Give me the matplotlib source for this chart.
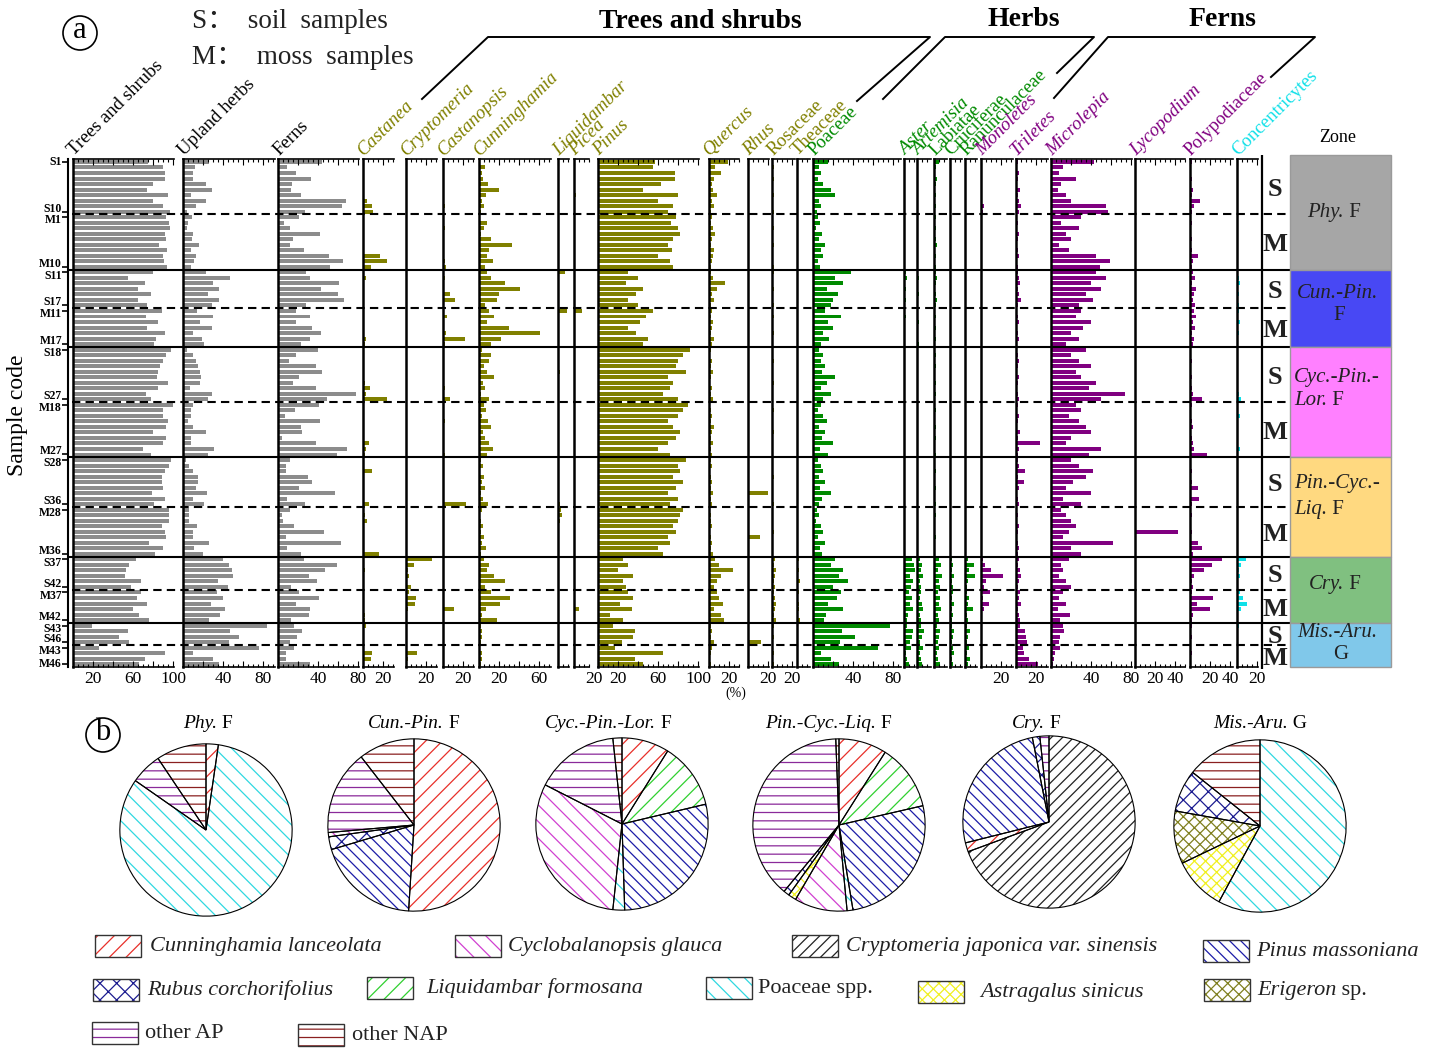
import matplotlib.pyplot as plt
from matplotlib.patches import Circle, Rectangle
from matplotlib.ticker import MultipleLocator

plt.rcParams['font.family'] = ['Liberation Serif', 'Noto Sans CJK SC']
plt.rcParams['hatch.linewidth'] = 0.9

W, H = 1439, 1048
fig = plt.figure(figsize=(W / 100, H / 100), dpi=100)


def px_axes(x0, y0, x1, y1):
    # axes placed with pixel coordinates measured from the top-left corner
    return fig.add_axes([x0 / W, 1 - y1 / H, (x1 - x0) / W, (y1 - y0) / H])


def mixed(ax, x, y, pieces, size, color='black'):
    # text made of several pieces with different styles, laid end to end
    txt, st = pieces[0]
    t = ax.text(x, y, txt, style=st, fontsize=size, color=color, ha='left', va='center')
    for txt, st in pieces[1:]:
        t = ax.annotate(txt, xy=(1, 0), xycoords=t, style=st, fontsize=size,
                        color=color, ha='left', va='bottom')
    return t


# ---- samples: 6 zones, soil samples (S) then moss samples (M) ----
soil_n = [10, 7, 10, 9, 6, 4]
moss_n = [10, 7, 10, 9, 6, 4]

samples = []
groups = []
s_no, m_no = 1, 1
for ns, nm in zip(soil_n, moss_n):
    r = len(samples)
    samples += ['S%d' % k for k in range(s_no, s_no + ns)]
    groups.append((r, r + ns - 1, 'S'))
    r = len(samples)
    samples += ['M%d' % k for k in range(m_no, m_no + nm)]
    groups.append((r, r + nm - 1, 'M'))
    s_no += ns
    m_no += nm
n_rows = len(samples)
rows = list(range(n_rows))

# ---- pollen percentages (one line per zone) ----
trees_shrubs = [
    75, 90, 92, 92, 80, 74, 95, 80, 90, 97, 93, 96, 97, 92, 93, 86, 94, 90, 91, 94,
    80, 55, 72, 65, 78, 65, 74, 89, 73, 85, 74, 92, 83, 81,
    98, 93, 90, 87, 85, 84, 95, 85, 73, 78, 100, 90, 90, 95, 93, 80, 93, 90, 70, 78,
    98, 96, 92, 89, 89, 90, 79, 92, 81, 96, 96, 96, 89, 92, 93, 76, 90, 82,
    63, 56, 53, 52, 68, 58, 68, 64, 74, 60, 66, 76,
    19, 55, 46, 56, 26, 92, 72, 66]
upland_herbs = [
    26, 12, 10, 10, 23, 29, 8, 23, 13, 4, 9, 5, 4, 10, 9, 16, 8, 13, 11, 8,
    23, 47, 30, 36, 25, 36, 29, 14, 30, 17, 29, 10, 19, 21,
    4, 10, 13, 15, 17, 18, 17, 7, 29, 25, 10, 8, 8, 5, 10, 23, 8, 8, 31, 25,
    3, 6, 10, 15, 15, 13, 24, 10, 21, 6, 6, 6, 14, 10, 10, 26, 11, 20,
    40, 46, 49, 50, 35, 45, 34, 40, 28, 42, 37, 26,
    84, 47, 56, 46, 76, 10, 30, 36]
ferns = [
    44, 9, 18, 33, 14, 13, 23, 68, 64, 27, 21, 6, 12, 42, 15, 12, 26, 51, 65, 52,
    28, 32, 61, 43, 60, 66, 28, 18, 32, 18, 34, 43, 32, 23,
    40, 18, 11, 38, 44, 21, 15, 38, 78, 49, 41, 17, 7, 42, 23, 24, 4, 38, 69, 59,
    12, 8, 8, 30, 34, 21, 57, 9, 27, 12, 4, 5, 16, 46, 8, 63, 9, 23,
    26, 59, 47, 31, 39, 13, 21, 41, 18, 32, 31, 13,
    16, 24, 19, 12, 16, 8, 8, 32]
castanea = [
    0, 0, 0, 0, 1, 0, 0, 4, 9, 10, 0, 0, 0, 1, 0, 0, 1, 17, 24, 8,
    0, 3, 0, 0, 0, 1, 0, 0, 1, 0, 0, 1, 3, 2,
    0, 0, 0, 1, 0, 0, 2, 7, 3, 24, 0, 0, 0, 1, 0, 0, 0, 6, 3, 2,
    0, 1, 9, 1, 0, 0, 0, 0, 6, 1, 2, 4, 0, 1, 0, 0, 0, 16,
    0, 1, 2, 1, 0, 0, 0, 0, 0, 1, 2, 2,
    3, 0, 0, 0, 0, 9, 8, 1]
cryptomeria = [
    0, 0, 1, 0, 1, 0, 0, 0, 1, 0, 0, 1, 0, 0, 0, 1, 0, 0, 0, 0,
    0, 0, 0, 1, 0, 0, 0, 0, 0, 1, 0, 0, 0, 0,
    0, 0, 0, 0, 0, 0, 0, 0, 0, 0, 0, 0, 0, 0, 0, 0, 0, 0, 0, 0,
    0, 0, 0, 0, 0, 0, 0, 0, 0, 0, 0, 0, 0, 0, 0, 0, 0, 0,
    26, 8, 2, 3, 1, 5, 3, 10, 9, 2, 1, 1,
    0, 1, 1, 0, 0, 11, 2, 0]
castanopsis = [
    0, 0, 0, 0, 0, 1, 0, 0, 2, 1, 0, 0, 2, 0, 0, 0, 0, 0, 2, 3,
    1, 2, 1, 0, 7, 12, 1, 1, 4, 0, 1, 3, 22, 2,
    0, 0, 1, 0, 0, 0, 1, 2, 0, 7, 0, 0, 0, 2, 0, 0, 0, 0, 1, 2,
    0, 0, 0, 0, 0, 1, 0, 0, 23, 0, 0, 0, 1, 0, 0, 0, 0, 0,
    0, 0, 1, 0, 0, 0, 0, 0, 0, 11, 0, 0,
    0, 1, 1, 0, 0, 0, 0, 0]
cunninghamia = [
    0, 6, 3, 4, 9, 20, 7, 3, 5, 2, 1, 8, 5, 2, 12, 33, 10, 8, 14, 6,
    8, 12, 26, 41, 20, 18, 6, 10, 15, 8, 30, 61, 22, 12,
    3, 12, 10, 5, 8, 15, 4, 6, 2, 10, 5, 7, 3, 9, 12, 4, 6, 10, 14, 8,
    2, 4, 1, 5, 3, 6, 2, 4, 9, 3, 1, 2, 4, 2, 5, 3, 7, 2,
    5, 10, 8, 15, 26, 6, 12, 31, 21, 7, 3, 18,
    2, 3, 3, 2, 1, 3, 3, 2]
liquidambar = [
    0, 0, 1, 0, 0, 0, 0, 0, 0, 0, 0, 0, 0, 0, 0, 0, 0, 0, 0, 0,
    7, 0, 0, 1, 0, 0, 0, 9, 0, 0, 0, 0, 0, 0,
    0, 0, 0, 0, 2, 0, 0, 0, 0, 0, 0, 0, 0, 0, 0, 1, 0, 0, 0, 0,
    0, 0, 1, 0, 0, 0, 0, 0, 2, 3, 4, 2, 0, 0, 0, 1, 0, 0,
    0, 0, 0, 0, 0, 0, 0, 0, 0, 1, 0, 0,
    0, 0, 0, 0, 0, 0, 0, 0]
picea = [
    0, 0, 0, 0, 0, 0, 2, 0, 0, 0, 0, 0, 0, 0, 0, 0, 0, 0, 0, 0,
    0, 0, 0, 0, 0, 0, 0, 8, 0, 0, 0, 0, 0, 0,
    0, 0, 0, 0, 0, 0, 0, 0, 0, 0, 0, 0, 0, 0, 0, 0, 0, 0, 0, 0,
    0, 0, 0, 0, 0, 0, 0, 0, 0, 0, 0, 0, 0, 0, 0, 0, 0, 0,
    0, 0, 0, 0, 0, 0, 0, 0, 0, 5, 0, 0,
    0, 0, 0, 0, 0, 0, 0, 0]
pinus = [
    57, 55, 77, 77, 63, 45, 80, 60, 75, 70, 78, 73, 80, 82, 75, 70, 74, 60, 72, 75,
    30, 40, 28, 45, 38, 30, 40, 55, 48, 42, 30, 38, 50, 45,
    92, 85, 80, 78, 88, 70, 75, 72, 65, 80, 90, 85, 80, 70, 75, 82, 78, 70, 60, 72,
    88, 80, 82, 75, 85, 78, 70, 80, 72, 85, 82, 80, 75, 78, 70, 72, 60, 65,
    25, 30, 20, 35, 25, 28, 30, 35, 22, 34, 12, 25,
    15, 37, 35, 24, 17, 65, 37, 45]
quercus = [
    19, 6, 12, 5, 3, 4, 8, 3, 5, 2, 3, 2, 4, 6, 3, 2, 5, 4, 3, 2,
    2, 4, 16, 8, 3, 5, 2, 3, 2, 4, 3, 2, 5, 3,
    2, 1, 3, 2, 4, 2, 1, 3, 2, 4, 1, 2, 3, 2, 5, 3, 2, 4, 2, 3,
    2, 3, 1, 2, 3, 2, 4, 2, 3, 1, 2, 2, 3, 1, 2, 3, 2, 4,
    6, 10, 24, 12, 8, 5, 8, 10, 14, 5, 12, 15,
    2, 3, 2, 5, 3, 2, 1, 2]
rhus = [
    0, 0, 0, 0, 0, 0, 0, 0, 0, 0, 0, 0, 0, 0, 0, 0, 0, 0, 0, 0,
    0, 0, 1, 0, 0, 0, 0, 0, 0, 0, 0, 0, 0, 0,
    0, 0, 0, 0, 0, 0, 0, 0, 0, 0, 0, 0, 0, 0, 0, 0, 0, 0, 0, 0,
    0, 0, 0, 0, 0, 0, 20, 0, 0, 0, 0, 0, 0, 0, 12, 0, 0, 0,
    1, 0, 1, 0, 0, 1, 0, 1, 0, 0, 1, 0,
    0, 0, 0, 13, 0, 0, 0, 0]
rosaceae = [
    1, 2, 1, 2, 1, 1, 2, 1, 1, 2, 1, 1, 2, 1, 1, 2, 1, 1, 1, 2,
    2, 1, 1, 2, 1, 1, 2, 1, 2, 1, 1, 2, 1, 1,
    1, 1, 2, 1, 1, 1, 2, 1, 1, 1, 1, 2, 1, 1, 1, 2, 1, 1, 1, 1,
    1, 1, 1, 2, 1, 1, 1, 1, 2, 1, 1, 1, 1, 2, 1, 1, 1, 1,
    3, 2, 4, 3, 2, 3, 2, 3, 4, 3, 2, 4,
    2, 1, 2, 1, 1, 2, 1, 2]
theaceae = [
    0, 0, 1, 0, 0, 1, 0, 0, 0, 1, 0, 0, 0, 1, 0, 0, 0, 0, 1, 0,
    1, 0, 0, 1, 0, 0, 1, 0, 1, 0, 0, 0, 1, 0,
    0, 0, 0, 1, 0, 0, 0, 0, 1, 0, 0, 0, 1, 0, 0, 0, 0, 1, 0, 0,
    0, 1, 0, 0, 0, 0, 1, 0, 0, 0, 0, 0, 1, 0, 0, 0, 0, 0,
    2, 1, 2, 1, 3, 1, 2, 1, 2, 2, 1, 3,
    1, 0, 1, 0, 1, 0, 0, 1]
poaceae = [
    15, 6, 8, 5, 10, 18, 22, 6, 8, 4, 5, 7, 3, 9, 6, 12, 8, 10, 5, 7,
    38, 22, 30, 14, 25, 20, 18, 12, 28, 15, 20, 10, 16, 8,
    6, 10, 8, 12, 9, 22, 14, 8, 18, 10, 8, 5, 10, 14, 6, 12, 9, 20, 7, 15,
    5, 8, 10, 6, 12, 7, 18, 9, 6, 4, 6, 3, 8, 10, 5, 12, 7, 9,
    22, 18, 30, 26, 35, 20, 28, 24, 15, 30, 13, 11,
    77, 29, 42, 27, 65, 8, 18, 26]
aster = [
    1, 0, 1, 0, 1, 1, 0, 0, 1, 0, 0, 1, 0, 0, 1, 0, 0, 1, 0, 0,
    2, 3, 1, 2, 1, 2, 1, 1, 2, 1, 1, 0, 1, 1,
    0, 1, 0, 0, 1, 0, 0, 1, 0, 1, 0, 0, 1, 0, 0, 1, 0, 0, 1, 0,
    0, 0, 1, 0, 0, 0, 1, 0, 0, 0, 1, 0, 0, 0, 0, 1, 0, 0,
    8, 10, 12, 6, 9, 7, 5, 8, 6, 9, 4, 3,
    3, 9, 8, 6, 7, 2, 3, 5]
artemisia = [
    1, 1, 0, 1, 0, 1, 1, 0, 1, 1, 0, 1, 1, 0, 1, 0, 1, 1, 0, 1,
    1, 2, 1, 1, 2, 1, 1, 1, 1, 2, 1, 1, 1, 2,
    0, 1, 1, 0, 1, 1, 0, 1, 1, 0, 1, 0, 1, 1, 0, 1, 1, 0, 1, 1,
    1, 0, 1, 1, 0, 1, 0, 1, 1, 0, 1, 1, 0, 1, 0, 1, 1, 0,
    3, 5, 4, 6, 3, 4, 4, 3, 5, 6, 3, 4,
    4, 7, 5, 3, 6, 3, 4, 5]
labiatae = [
    5, 2, 1, 3, 2, 1, 2, 1, 2, 1, 2, 1, 2, 1, 2, 3, 1, 2, 1, 2,
    2, 3, 2, 1, 2, 3, 2, 1, 2, 1, 2, 1, 2, 1,
    1, 2, 1, 2, 1, 1, 2, 1, 2, 1, 1, 2, 1, 1, 2, 1, 2, 1, 1, 2,
    1, 1, 2, 1, 1, 2, 1, 1, 2, 1, 2, 1, 1, 1, 2, 1, 1, 1,
    5, 7, 4, 8, 5, 6, 4, 6, 5, 7, 4, 5,
    3, 6, 5, 4, 5, 3, 4, 6]
cruciferae = [
    0, 1, 0, 0, 1, 0, 0, 1, 0, 0, 1, 0, 0, 1, 0, 0, 1, 0, 0, 1,
    1, 0, 1, 0, 1, 0, 1, 0, 1, 0, 1, 0, 1, 0,
    0, 0, 1, 0, 0, 1, 0, 0, 1, 0, 0, 1, 0, 0, 1, 0, 0, 1, 0, 0,
    0, 1, 0, 0, 1, 0, 0, 1, 0, 1, 0, 0, 1, 0, 0, 1, 0, 0,
    2, 3, 2, 4, 2, 3, 3, 2, 4, 2, 3, 2,
    2, 4, 3, 2, 3, 4, 2, 3]
ranunculaceae = [
    0, 0, 1, 0, 0, 0, 1, 0, 0, 0, 0, 1, 0, 0, 0, 0, 0, 1, 0, 0,
    1, 0, 0, 1, 0, 1, 0, 0, 0, 1, 0, 0, 0, 1,
    0, 1, 0, 0, 0, 0, 1, 0, 0, 0, 0, 0, 0, 1, 0, 0, 0, 0, 1, 0,
    0, 0, 0, 1, 0, 0, 0, 0, 1, 0, 0, 1, 0, 0, 0, 0, 1, 0,
    3, 9, 4, 10, 3, 2, 2, 4, 3, 8, 2, 3,
    2, 5, 3, 2, 4, 2, 5, 3]
monoletes = [
    0, 0, 0, 0, 0, 0, 0, 0, 3, 2, 0, 0, 0, 0, 1, 0, 0, 0, 0, 0,
    0, 0, 0, 0, 0, 0, 0, 0, 0, 0, 0, 0, 0, 0,
    0, 0, 0, 0, 0, 0, 0, 0, 0, 0, 0, 0, 0, 0, 0, 0, 0, 0, 0, 0,
    0, 0, 0, 0, 0, 0, 0, 0, 0, 0, 0, 0, 0, 0, 0, 0, 0, 0,
    2, 4, 10, 22, 5, 3, 9, 2, 8, 3, 1, 1,
    1, 0, 1, 0, 0, 1, 0, 0]
triletes = [
    2, 1, 3, 2, 1, 4, 2, 3, 5, 3, 1, 2, 1, 3, 2, 1, 2, 3, 1, 2,
    2, 3, 4, 2, 3, 5, 2, 1, 2, 3, 1, 2, 3, 1,
    1, 2, 3, 2, 1, 3, 2, 1, 2, 3, 2, 1, 3, 2, 1, 4, 2, 24, 3, 2,
    2, 3, 9, 2, 8, 3, 1, 2, 3, 1, 2, 1, 3, 2, 1, 2, 3, 2,
    3, 2, 4, 5, 3, 2, 4, 3, 5, 2, 3, 4,
    4, 9, 10, 11, 7, 8, 13, 22]
microlepia = [
    43, 12, 8, 25, 10, 7, 15, 20, 55, 57, 30, 10, 28, 15, 20, 8, 18, 45, 59, 49,
    45, 55, 40, 50, 35, 42, 28, 30, 25, 40, 32, 20, 28, 15,
    35, 20, 28, 40, 25, 30, 45, 38, 74, 50, 25, 30, 18, 28, 35, 40, 20, 15, 50, 38,
    20, 28, 42, 35, 22, 15, 40, 12, 30, 10, 15, 20, 25, 18, 12, 62, 20, 30,
    18, 10, 12, 8, 15, 20, 12, 8, 15, 7, 19, 9,
    12, 13, 9, 8, 9, 4, 3, 2]
lycopodium = [
    0, 0, 0, 0, 0, 0, 0, 0, 0, 0, 0, 0, 0, 0, 0, 0, 0, 0, 0, 0,
    0, 0, 0, 0, 0, 0, 0, 0, 0, 0, 0, 0, 0, 0,
    0, 0, 0, 0, 0, 0, 0, 0, 0, 0, 0, 0, 0, 0, 0, 0, 0, 0, 0, 0,
    0, 0, 0, 0, 0, 0, 0, 0, 0, 0, 0, 0, 0, 43, 0, 0, 0, 0,
    0, 0, 0, 0, 0, 0, 0, 0, 0, 0, 0, 0,
    0, 0, 0, 0, 0, 0, 0, 0]
polypodiaceae = [
    2, 1, 1, 2, 1, 3, 2, 10, 4, 2, 1, 2, 1, 1, 2, 1, 2, 8, 3, 2,
    3, 5, 2, 6, 4, 3, 5, 4, 6, 3, 5, 2, 4, 3,
    1, 1, 2, 1, 1, 2, 1, 2, 3, 12, 2, 1, 1, 2, 3, 1, 2, 3, 4, 17,
    1, 1, 2, 1, 2, 8, 1, 9, 2, 1, 2, 1, 1, 2, 1, 8, 12, 3,
    32, 22, 14, 4, 2, 3, 2, 23, 7, 20, 3, 2,
    2, 1, 2, 1, 1, 2, 1, 1]
concentricytes = [
    0, 0, 0, 0, 1, 0, 0, 0, 0, 0, 0, 0, 0, 0, 0, 1, 0, 0, 0, 0,
    1, 2, 3, 1, 2, 1, 2, 2, 1, 3, 1, 2, 1, 1,
    1, 0, 0, 0, 0, 0, 1, 0, 2, 4, 1, 0, 3, 0, 0, 0, 0, 0, 3, 0,
    0, 0, 0, 0, 0, 0, 0, 0, 0, 0, 0, 0, 0, 0, 0, 0, 0, 0,
    9, 4, 2, 3, 1, 1, 3, 6, 10, 4, 1, 1,
    2, 0, 0, 0, 1, 0, 0, 0]

# ---- pie charts: share of each taxon per zone, clockwise from 12 o'clock ----
pie_titles = [[('Phy.', 'italic'), (' F', 'normal')],
              [('Cun.-Pin.', 'italic'), (' F', 'normal')],
              [('Cyc.-Pin.-Lor.', 'italic'), (' F', 'normal')],
              [('Pin.-Cyc.-Liq.', 'italic'), (' F', 'normal')],
              [('Cry.', 'italic'), (' F', 'normal')],
              [('Mis.-Aru.', 'italic'), (' G', 'normal')]]
pie_taxa = [
    ['Cunninghamia lanceolata', 'Poaceae spp.', 'other AP', 'other NAP'],
    ['Cunninghamia lanceolata', 'Pinus massoniana', 'Rubus corchorifolius',
     'Cyclobalanopsis glauca', 'other AP', 'other NAP'],
    ['Cunninghamia lanceolata', 'Liquidambar formosana', 'Pinus massoniana',
     'Poaceae spp.', 'Cyclobalanopsis glauca', 'other AP', 'other NAP'],
    ['Cunninghamia lanceolata', 'Liquidambar formosana', 'Pinus massoniana',
     'Poaceae spp.', 'Cyclobalanopsis glauca', 'Astragalus sinicus',
     'Rubus corchorifolius', 'other AP', 'other NAP'],
    ['Cryptomeria japonica var. sinensis', 'Cunninghamia lanceolata',
     'Pinus massoniana', 'Rubus corchorifolius', 'other AP'],
    ['Poaceae spp.', 'Astragalus sinicus', 'Erigeron sp.',
     'Rubus corchorifolius', 'other NAP'],
]
pie_shares = [
    [2.3, 82.4, 5.9, 9.4],
    [51.0, 19.4, 2.4, 0.8, 15.9, 10.5],
    [8.9, 12.4, 28.2, 2.2, 30.8, 15.8, 1.7],
    [9.0, 12.4, 26.0, 1.1, 9.9, 1.5, 1.1, 38.4, 0.6],
    [69.4, 1.7, 25.8, 1.4, 1.7],
    [57.9, 10.0, 9.9, 7.9, 14.3],
]

# hatch colour and pattern per pie category
hatch_style = {
    'Cunninghamia lanceolata': ('#e8302a', '//'),
    'Cyclobalanopsis glauca': ('#d040d0', '\\\\'),
    'Cryptomeria japonica var. sinensis': ('#222222', '///'),
    'Pinus massoniana': ('#1c1ca8', '\\\\\\'),
    'Rubus corchorifolius': ('#1c1c90', 'xx'),
    'Liquidambar formosana': ('#30d030', '//'),
    'Poaceae spp.': ('#30d8e0', '\\\\'),
    'Astragalus sinicus': ('#f0f020', 'xxx'),
    'Erigeron sp.': ('#808020', 'xxx'),
    'other AP': ('#8a2a9a', '--'),
    'other NAP': ('#8a2020', '--'),
}

GREY, OLIVE, GREEN, PURPLE, CYAN = '#8c8c8c', '#808000', '#008a00', '#800080', '#10e0e8'

# name, values, left edge (px), width (px), colour, label style, labelled ticks
panels = [
    ('Trees and shrubs', trees_shrubs, 73, 101, GREY, 'sum', [20, 60, 100]),
    ('Upland herbs', upland_herbs, 183, 92, GREY, 'sum', [40, 80]),
    ('Ferns', ferns, 278, 81, GREY, 'sum', [40, 80]),
    ('Castanea', castanea, 363, 31, OLIVE, 'italic', [20]),
    ('Cryptomeria', cryptomeria, 406, 31, OLIVE, 'italic', [20]),
    ('Castanopsis', castanopsis, 443, 31, OLIVE, 'italic', [20]),
    ('Cunninghamia', cunninghamia, 479, 72, OLIVE, 'italic', [20, 60]),
    ('Liquidambar', liquidambar, 558, 11, OLIVE, 'italic', []),
    ('Picea', picea, 574, 15, OLIVE, 'italic', [20]),
    ('Pinus', pinus, 598, 101, OLIVE, 'italic', [20, 60, 100]),
    ('Quercus', quercus, 709, 30, OLIVE, 'italic', [20]),
    ('Rhus', rhus, 748, 21, OLIVE, 'italic', [20]),
    ('Rosaceae', rosaceae, 772, 23, OLIVE, 'normal', [20]),
    ('Theaceae', theaceae, 797, 13, OLIVE, 'normal', []),
    ('Poaceae', poaceae, 813, 88, GREEN, 'normal', [40, 80]),
    ('Aster', aster, 904, 11, GREEN, 'italic', []),
    ('Artemisia', artemisia, 917, 14, GREEN, 'italic', []),
    ('Labiatae', labiatae, 934, 13, GREEN, 'normal', []),
    ('Cruciferae', cruciferae, 950, 12, GREEN, 'normal', []),
    ('Ranunculaceae', ranunculaceae, 965, 12, GREEN, 'normal', []),
    ('Monoletes', monoletes, 981, 32, PURPLE, 'italic', [20]),
    ('Triletes', triletes, 1016, 32, PURPLE, 'italic', [20]),
    ('Microlepia', microlepia, 1051, 81, PURPLE, 'italic', [40, 80]),
    ('Lycopodium', lycopodium, 1135, 50, PURPLE, 'italic', [20, 40]),
    ('Polypodiaceae', polypodiaceae, 1190, 43, PURPLE, 'normal', [20, 40]),
    ('Concentricytes', concentricytes, 1237, 21, CYAN, 'normal', [20]),
]

TOP, BOT = 159.2, 667.0

for label, vals, x0, w, col, kind, labs in panels:
    ax = px_axes(x0, TOP, x0 + w, BOT)
    ax.barh(rows, vals, height=0.72, color=col, linewidth=0)
    ax.set_xlim(0, w)
    ax.set_ylim(n_rows - 0.5, -0.5)
    ax.patch.set_visible(False)
    ax.spines['right'].set_visible(False)
    ax.spines['left'].set_linewidth(1.8)
    ax.spines['top'].set_linewidth(1.2)
    ax.spines['bottom'].set_linewidth(1.2)
    ax.set_yticks([])
    ax.xaxis.set_minor_locator(MultipleLocator(5))
    major = list(range(0, w + 1, 20))
    ax.set_xticks(major, [str(v) if v in labs else '' for v in major])
    ax.tick_params(axis='x', which='both', top=True, direction='in', width=0.8,
                   labelsize=12.5, pad=3)
    ax.tick_params(axis='x', which='major', length=4)
    ax.tick_params(axis='x', which='minor', length=2.5)
    for v in labs:
        if v > w:
            ax.annotate(str(v), xy=(v, 0), xycoords=('data', 'axes fraction'),
                        xytext=(0, -3), textcoords='offset points', ha='center',
                        va='top', fontsize=12.5, annotation_clip=False)
    if kind == 'sum':
        fig.text((x0 + 1) / W, 1 - 156 / H, label, rotation=45, rotation_mode='anchor',
                 ha='left', va='baseline', fontsize=13.5, color='black')
    else:
        fig.text((x0 + 1) / W, 1 - 156 / H, label, rotation=45, rotation_mode='anchor',
                 ha='left', va='baseline', fontsize=13.5, color=col, style=kind)

# ---- sample axis, zone lines and S/M column ----
fr = px_axes(68, TOP, 1290, BOT)
fr.set_xlim(68, 1290)
fr.set_ylim(n_rows - 0.5, -0.5)
fr.patch.set_visible(False)
for sp in ['top', 'right', 'bottom']:
    fr.spines[sp].set_visible(False)
fr.spines['left'].set_linewidth(1.5)
fr.set_xticks([])
tick_rows = []
for a, b, letter in groups:
    tick_rows += [a, b]
fr.set_yticks(tick_rows, [''] * len(tick_rows))
fr.tick_params(axis='y', length=4, width=1.2, direction='out')

for a, b, letter in groups:
    ya = a + (0.6 if a > 0 else 0)
    yb = b - (0.55 if b < n_rows - 1 else 0)
    fr.text(62, ya, samples[a], ha='right', va='center', fontsize=8.5, fontweight='bold')
    fr.text(62, yb, samples[b], ha='right', va='center', fontsize=8.5, fontweight='bold')
    if letter == 'S':
        fr.hlines(b + 0.5, 72, 1290, colors='black', linestyles=(0, (4, 2.5)), lw=1.5)
    elif b < n_rows - 1:
        fr.hlines(b + 0.5, 68, 1290, colors='black', lw=1.5)
    fr.text(1275, (a + b) / 2 + 0.5, letter, ha='center', va='center',
            fontsize=19, fontweight='bold', color='#222222')
fr.vlines(1262, -1.2, n_rows - 0.1, colors='black', lw=1.6, clip_on=False)

# ---- zone column ----
zone_colors = ['#a6a6a6', '#4848f4', '#ff80ff', '#ffd980', '#80c080', '#80c8ea']
zb = px_axes(1290, TOP, 1391, BOT)
zb.set_xlim(1290, 1391)
zb.set_ylim(n_rows - 0.5, -0.5)
zb.axis('off')
for z in range(len(soil_n)):
    top = groups[2 * z][0] - 0.5
    bottom = groups[2 * z + 1][1] + 0.5
    if z == 0:
        top -= 0.7
    zb.add_patch(Rectangle((1290, top), 101, bottom - top, facecolor=zone_colors[z],
                           edgecolor='#9a9a9a', lw=1.0, clip_on=False))

zone_text = [
    (1307, 9.1, [('Phy.', 'italic'), (' F', 'normal')]),
    (1297, 23.9, [('Cun.-Pin.', 'italic')]),
    (1333, 27.9, [('F', 'normal')]),
    (1294, 39.1, [('Cyc.-Pin.-', 'italic')]),
    (1294, 43.3, [('Lor.', 'italic'), (' F', 'normal')]),
    (1294, 58.2, [('Pin.-Cyc.-', 'italic')]),
    (1294, 62.9, [('Liq.', 'italic'), (' F', 'normal')]),
    (1309, 76.6, [('Cry.', 'italic'), (' F', 'normal')]),
    (1297, 85.3, [('Mis.-Aru.', 'italic')]),
    (1333, 89.3, [('G', 'normal')]),
]
for x, y, pieces in zone_text:
    mixed(zb, x, y, pieces, 15, color='#222222')

# ---- pies ----
pie_centers = [(206, 830), (414, 825), (622, 824), (839, 825), (1049, 822), (1260, 826)]
title_x = [183, 368, 545, 765, 1012, 1213]
for (cx, cy), taxa, shares in zip(pie_centers, pie_taxa, pie_shares):
    ax = px_axes(cx - 87, cy - 87, cx + 87, cy + 87)
    wedges, _ = ax.pie(shares, startangle=90, counterclock=False, radius=1,
                       wedgeprops=dict(facecolor='white', linewidth=0))
    for wdg, name in zip(wedges, taxa):
        c, h = hatch_style[name]
        wdg.set_edgecolor(c)
        wdg.set_hatch(h)
        if hasattr(wdg, 'set_hatchcolor'):
            wdg.set_hatchcolor(c)
    ax.pie(shares, startangle=90, counterclock=False, radius=1,
           wedgeprops=dict(fill=False, edgecolor='black', linewidth=0.8))
    ax.set_aspect('auto')
    ax.set_xlim(-1.01, 1.01)
    ax.set_ylim(-1.01, 1.01)

# ---- overlay: titles, brackets, legend ----
ov = px_axes(0, 0, W, H)
ov.set_xlim(0, W)
ov.set_ylim(H, 0)
ov.axis('off')

for x, pieces in zip(title_x, pie_titles):
    mixed(ov, x, 724, pieces, 14)

ov.plot([422, 488, 930, 857], [99, 37, 37, 101], color='black', lw=1.4)
ov.plot([883, 945, 1094, 1057], [99, 37, 37, 73], color='black', lw=1.4)
ov.plot([1054, 1108, 1315, 1271], [98, 37, 37, 77], color='black', lw=1.4)
ov.text(700, 22, 'Trees and shrubs', ha='center', va='center', fontsize=20, fontweight='bold')
ov.text(1024, 20, 'Herbs', ha='center', va='center', fontsize=20, fontweight='bold')
ov.text(1222, 20, 'Ferns', ha='center', va='center', fontsize=20, fontweight='bold')

ov.text(192, 22, 'S：  soil  samples', ha='left', va='center', fontsize=19.5, color='#222222')
ov.text(192, 57, 'M：  moss  samples', ha='left', va='center', fontsize=19.5, color='#222222')
ov.add_patch(Circle((80, 33), 17, fill=False, lw=1.2))
ov.text(80, 31, 'a', ha='center', va='center', fontsize=22)
ov.add_patch(Circle((103, 735), 17, fill=False, lw=1.2))
ov.text(103, 733, 'b', ha='center', va='center', fontsize=22)

ov.text(18, 415, 'Sample code', rotation=90, ha='center', va='center', fontsize=17)
ov.text(1338, 137, 'Zone', ha='center', va='center', fontsize=13)
ov.text(736, 693, '(%)', ha='center', va='center', fontsize=10)

legend_items = [
    ('Cunninghamia lanceolata', 95, 946, 150, [('Cunninghamia lanceolata', 'italic')]),
    ('Cyclobalanopsis glauca', 455, 946, 508, [('Cyclobalanopsis glauca', 'italic')]),
    ('Cryptomeria japonica var. sinensis', 792, 946, 846,
     [('Cryptomeria japonica var. sinensis', 'italic')]),
    ('Pinus massoniana', 1203, 951, 1256, [('Pinus massoniana', 'italic')]),
    ('Rubus corchorifolius', 93, 990, 147, [('Rubus corchorifolius', 'italic')]),
    ('Liquidambar formosana', 367, 988, 426, [('Liquidambar formosana', 'italic')]),
    ('Poaceae spp.', 706, 988, 758, [('Poaceae spp.', 'normal')]),
    ('Astragalus sinicus', 918, 992, 980, [('Astragalus sinicus', 'italic')]),
    ('Erigeron sp.', 1204, 990, 1257, [('Erigeron', 'italic'), (' sp.', 'normal')]),
    ('other AP', 92, 1033, 145, [('other AP', 'normal')]),
    ('other NAP', 298, 1035, 352, [('other NAP', 'normal')]),
]
for key, bx, by, tx, pieces in legend_items:
    c, h = hatch_style[key]
    r = Rectangle((bx, by - 11), 46, 22, facecolor='white', edgecolor=c, hatch=h, lw=0)
    if hasattr(r, 'set_hatchcolor'):
        r.set_hatchcolor(c)
    ov.add_patch(r)
    ov.add_patch(Rectangle((bx, by - 11), 46, 22, fill=False, edgecolor='#333333', lw=1.0))
    mixed(ov, tx, by, pieces, 16, color='#222222')

fig.savefig('out.png', dpi=100)
